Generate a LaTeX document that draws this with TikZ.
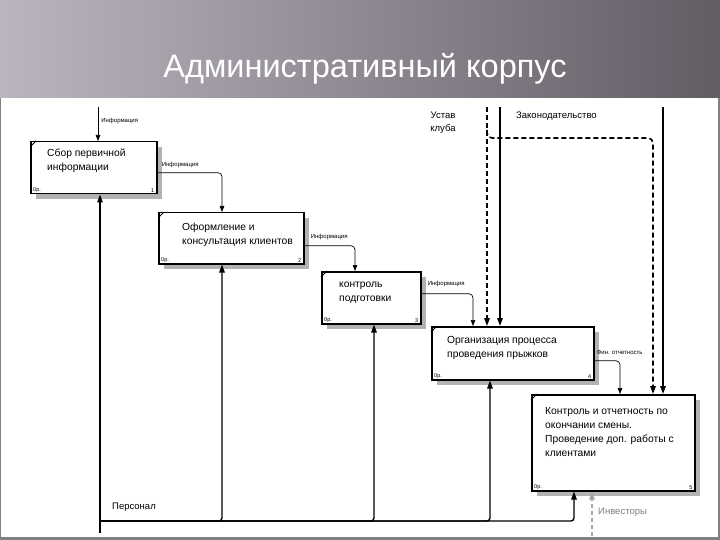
\documentclass[tikz,border=0pt]{standalone}
\usepackage{fontspec}
\setmainfont{Liberation Sans}
\usetikzlibrary{shadows, positioning, arrows.meta}
\definecolor{bandlight}{RGB}{186,181,191}
\definecolor{bandmid}{RGB}{132,127,135}
\definecolor{banddark}{RGB}{98,93,101}
\definecolor{framegray}{RGB}{128,128,128}
\tikzset{
    process/.style = {draw, line width=1.5pt, fill=white, anchor=north west, inner sep=0pt,
        drop shadow={shadow xshift=5pt, shadow yshift=-5pt, fill=black!30, opacity=1}},
    boxtext/.style = {inner sep=0pt, align=left, font=\fontsize{10.3}{14}\selectfont},
    tag/.style = {inner sep=0pt, font=\fontsize{5.5}{6}\selectfont},
    lbl/.style = {inner sep=0pt, font=\fontsize{6}{7}\selectfont},
    txt/.style = {inner sep=0pt, font=\fontsize{9.5}{13}\selectfont},
    info/.style = {draw, line width=0.7pt, rounded corners=4pt, -{Triangle[length=6pt, width=4.5pt]}},
    pers/.style = {draw, line width=1.4pt, rounded corners=3pt, -{Triangle[length=8pt, width=5.5pt]}},
    zakon/.style = {draw, line width=1.6pt, -{Triangle[length=8pt, width=5.5pt]}},
    ustav/.style = {draw, line width=1.6pt, dash pattern=on 5pt off 3pt, rounded corners=5pt,
        -{Triangle[length=8pt, width=5.5pt]}},
    invest/.style = {draw=gray!70, line width=1.4pt, dash pattern=on 4pt off 3pt,
        -{Triangle[length=8pt, width=5.5pt]}},
}
\begin{document}
\begin{tikzpicture}[x=1pt, y=-1pt]
    \useasboundingbox (0,0) rectangle (720,540);
    % background and title
    \fill[framegray] (0,0) rectangle (720,540);
    \shade[left color=bandlight, middle color=bandmid, right color=banddark] (0,0) rectangle (720,98);
    \fill[white] (1,98) rectangle (718,537);
    \node[text=white, inner sep=0pt, font=\fontsize{32.5}{36}\selectfont] (title) at (365,69) {Административный корпус};

    % blocks
    \node[process, minimum width=126pt, minimum height=52pt] (b1) at (30,141) {};
    \node[process, minimum width=145pt, minimum height=51pt] (b2) at (158,212) {};
    \node[process, minimum width=99pt, minimum height=52pt] (b3) at (321,271) {};
    \node[process, minimum width=162pt, minimum height=53pt] (b4) at (431,326) {};
    \node[process, minimum width=163pt, minimum height=96pt] (b5) at (531,394) {};

    \node[boxtext, below right=8pt and 17pt of b1.north west] {Сбор первичной\\информации};
    \node[boxtext, below right=11pt and 24pt of b2.north west] {Оформление и\\консультация клиентов};
    \node[boxtext, below right=11pt and 18pt of b3.north west] {контроль\\подготовки};
    \node[boxtext, below right=10pt and 16pt of b4.north west] {Организация процесса\\проведения прыжков};
    \node[boxtext, below right=13pt and 14pt of b5.north west] {Контроль и отчетность по\\окончании смены.\\Проведение доп. работы с\\клиентами};

    \foreach \b/\n in {b1/1, b2/2, b3/3, b4/4, b5/5} {
        \draw[line width=0.8pt] (\b.north west) ++(0,6) -- ++(6,-6);
        \node[tag, above right=2pt and 3pt of \b.south west] {0р.};
        \node[tag, above left=2pt and 3pt of \b.south east] {\n};
    }

    % information flow
    \coordinate (in1) at (98,107);
    \draw[info] (in1) -- node[lbl, right=3pt, pos=0.4] {Информация} (in1 |- b1.north);
    \draw[info] ([yshift=-5pt]b1.east) node[lbl, above right=5pt and 4pt] {Информация}
        -| ([xshift=64pt]b2.north west);
    \draw[info] ([yshift=-7.5pt]b2.east) node[lbl, above right=6pt and 6pt] {Информация}
        -| ([xshift=34pt]b3.north west);
    \draw[info] ([yshift=4pt]b3.east) node[lbl, above right=7pt and 6pt] {Информация}
        -| ([xshift=42pt]b4.north west);
    \draw[info] ([yshift=-7.5pt]b4.east) node[lbl, above right=6pt and 2pt] {Фин. отчетность}
        -| ([xshift=89pt]b5.north west);

    % controls
    \coordinate (ust) at (487,107);
    \coordinate (ustb) at (487,130);
    \coordinate (ust5) at (653,138);
    \coordinate (zak4) at (500,107);
    \coordinate (zak5) at (663,107);
    \draw[ustav] (ust) -- (ust |- b4.north);
    \draw[ustav] (ustb) |- (ust5) -- (ust5 |- b5.north);
    \draw[zakon] (zak4) -- (zak4 |- b4.north);
    \draw[zakon] (zak5) -- (zak5 |- b5.north);
    \node[txt, align=center] (ustlbl) at (443,123) {Устав\\клуба};
    \node[txt, anchor=west] (zaklbl) at (516,116) {Законодательство};

    % mechanisms
    \coordinate (pers) at (100,533);
    \coordinate (pj) at (100,521);
    \draw[pers] (pers) -- (pers |- b1.south);
    \draw[pers] (pj) -| ([xshift=64pt]b2.south west);
    \draw[pers] (pj) -| ([xshift=53pt]b3.south west);
    \draw[pers] (pj) -| ([xshift=59pt]b4.south west);
    \draw[pers] (pj) -| ([xshift=43pt]b5.south west);
    \node[txt, anchor=west] (perslbl) at (112,507) {Персонал};

    \coordinate (inv) at (592,536);
    \draw[invest] (inv) -- (inv |- b5.south);
    \node[txt, anchor=west, text=gray] (invlbl) at (598,512) {Инвесторы};
\end{tikzpicture}
\end{document}
